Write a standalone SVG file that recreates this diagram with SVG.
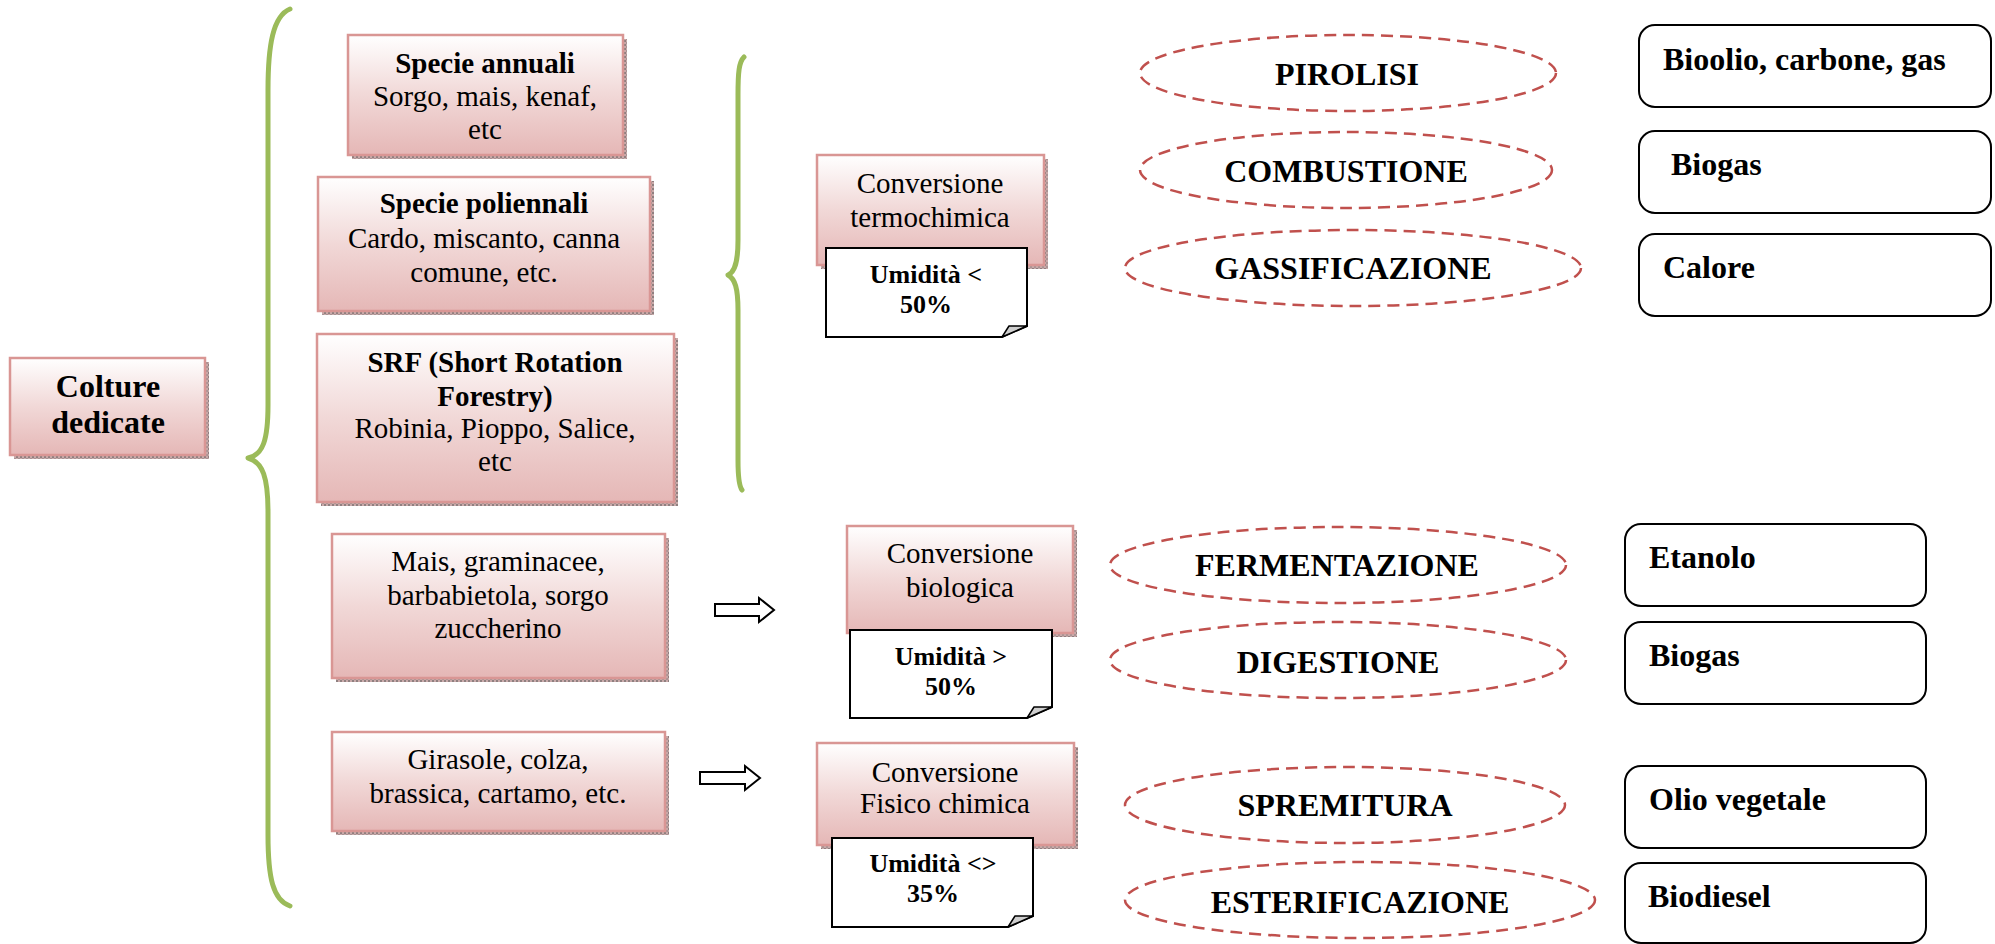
<svg xmlns="http://www.w3.org/2000/svg" width="1995" height="944" viewBox="0 0 1995 944" font-family="'Liberation Serif', 'DejaVu Serif', serif">
<defs>
<linearGradient id="pink" x1="0" y1="0" x2="0" y2="1">
<stop offset="0" stop-color="#FFFFFF"/>
<stop offset="0.5" stop-color="#F1D8D7"/>
<stop offset="1" stop-color="#E5B7B6"/>
</linearGradient>
<pattern id="shad" width="4" height="4" patternUnits="userSpaceOnUse">
<rect width="4" height="4" fill="#C9A9A9"/>
<rect width="2" height="2" fill="#8F8080"/>
<rect x="2" y="2" width="2" height="2" fill="#A89494"/>
</pattern>
</defs>
<style>
.box{fill:url(#pink);stroke:#D99694;stroke-width:2.5}
.sh{fill:url(#shad)}
.note{fill:#FFFFFF;stroke:#000;stroke-width:2}
.fold{fill:#CFCFCF;stroke:#000;stroke-width:1.5;stroke-linejoin:round}
.ell{fill:none;stroke:#C0504D;stroke-width:2.5;stroke-dasharray:12 7}
.res{fill:#FFFFFF;stroke:#000;stroke-width:2}
.brace{fill:none;stroke:#9BBB59;stroke-width:5;stroke-linecap:round;stroke-linejoin:round}
.arr{fill:#FFFFFF;stroke:#000;stroke-width:2;stroke-linejoin:miter}
.c{text-anchor:middle}
.b{font-weight:bold}
.f29{font-size:29px}
.f32{font-size:32px}
.f26{font-size:26px}
</style>

<g id="braces">
<path class="brace" d="M290 9 C273 16 268 45 268 90 L268 405 C268 440 263 455 248 458 C263 462 268 478 268 512 L268 835 C268 878 273 900 290 906"/>
<path class="brace" d="M744 57 C739 62 738 72 738 95 L738 240 C738 262 735 272 728 275 C735 279 738 288 738 310 L738 460 C738 478 739 486 742 490"/>
</g>

<g id="connectors">
<path class="arr" d="M715 604 H759 V598 L774 610 L759 622 V616 H715 Z"/>
<path class="arr" d="M700 772 H745 V766 L760 778 L745 790 V784 H700 Z"/>
</g>

<g id="colture">
<rect class="sh" x="14" y="362" width="195" height="97"/>
<rect class="box" x="10" y="358" width="195" height="97"/>
<text class="c b f32" x="108" y="397">Colture</text>
<text class="c b f32" x="108" y="433">dedicate</text>
</g>

<g id="specie-annuali">
<rect class="sh" x="352" y="39" width="275" height="120"/>
<rect class="box" x="348" y="35" width="275" height="120"/>
<text class="c b f29" x="485" y="73">Specie annuali</text>
<text class="c f29" x="485" y="106">Sorgo, mais, kenaf,</text>
<text class="c f29" x="485" y="139">etc</text>
</g>

<g id="specie-poliennali">
<rect class="sh" x="322" y="181" width="332" height="134"/>
<rect class="box" x="318" y="177" width="332" height="134"/>
<text class="c b f29" x="484" y="213">Specie poliennali</text>
<text class="c f29" x="484" y="248">Cardo, miscanto, canna</text>
<text class="c f29" x="484" y="282">comune, etc.</text>
</g>

<g id="srf">
<rect class="sh" x="321" y="338" width="357" height="168"/>
<rect class="box" x="317" y="334" width="357" height="168"/>
<text class="c b f29" x="495" y="372">SRF (Short Rotation</text>
<text class="c b f29" x="495" y="406">Forestry)</text>
<text class="c f29" x="495" y="438">Robinia, Pioppo, Salice,</text>
<text class="c f29" x="495" y="471">etc</text>
</g>

<g id="mais">
<rect class="sh" x="336" y="538" width="333" height="144"/>
<rect class="box" x="332" y="534" width="333" height="144"/>
<text class="c f29" x="498" y="571">Mais, graminacee,</text>
<text class="c f29" x="498" y="605">barbabietola, sorgo</text>
<text class="c f29" x="498" y="638">zuccherino</text>
</g>

<g id="girasole">
<rect class="sh" x="336" y="736" width="333" height="99"/>
<rect class="box" x="332" y="732" width="333" height="99"/>
<text class="c f29" x="498" y="769">Girasole, colza,</text>
<text class="c f29" x="498" y="803">brassica, cartamo, etc.</text>
</g>

<g id="conv-termochimica">
<rect class="sh" x="821" y="159" width="227" height="110"/>
<rect class="box" x="817" y="155" width="227" height="110"/>
<text class="c f29" x="930" y="193">Conversione</text>
<text class="c f29" x="930" y="227">termochimica</text>
</g>
<g id="note-termo">
<path class="note" d="M826 248 H1027 V326 L1002 337 H826 Z"/>
<path class="fold" d="M1002 337 L1009 326 L1027 326 Z"/>
<text class="c b f26" x="926" y="283">Umidità &lt;</text>
<text class="c b f26" x="926" y="313">50%</text>
</g>

<g id="conv-biologica">
<rect class="sh" x="851" y="530" width="226" height="107"/>
<rect class="box" x="847" y="526" width="226" height="107"/>
<text class="c f29" x="960" y="563">Conversione</text>
<text class="c f29" x="960" y="597">biologica</text>
</g>
<g id="note-bio">
<path class="note" d="M850 630 H1052 V707 L1027 718 H850 Z"/>
<path class="fold" d="M1027 718 L1034 707 L1052 707 Z"/>
<text class="c b f26" x="951" y="665">Umidità &gt;</text>
<text class="c b f26" x="951" y="695">50%</text>
</g>

<g id="conv-fisico">
<rect class="sh" x="821" y="747" width="257" height="102"/>
<rect class="box" x="817" y="743" width="257" height="102"/>
<text class="c f29" x="945" y="782">Conversione</text>
<text class="c f29" x="945" y="813">Fisico chimica</text>
</g>
<g id="note-fisico">
<path class="note" d="M832 838 H1033 V916 L1008 927 H832 Z"/>
<path class="fold" d="M1008 927 L1015 916 L1033 916 Z"/>
<text class="c b f26" x="933" y="872">Umidità &lt;&gt;</text>
<text class="c b f26" x="933" y="902">35%</text>
</g>

<g id="pirolisi">
<ellipse class="ell" cx="1348" cy="73" rx="208" ry="38"/>
<text class="c b f32" x="1347" y="85">PIROLISI</text>
</g>
<g id="combustione">
<ellipse class="ell" cx="1346" cy="170" rx="206" ry="38"/>
<text class="c b f32" x="1346" y="182">COMBUSTIONE</text>
</g>
<g id="gassificazione">
<ellipse class="ell" cx="1353" cy="268" rx="228" ry="38"/>
<text class="c b f32" x="1353" y="279">GASSIFICAZIONE</text>
</g>
<g id="fermentazione">
<ellipse class="ell" cx="1338" cy="565" rx="228" ry="38"/>
<text class="c b f32" x="1337" y="576">FERMENTAZIONE</text>
</g>
<g id="digestione">
<ellipse class="ell" cx="1338" cy="660" rx="228" ry="38"/>
<text class="c b f32" x="1338" y="673">DIGESTIONE</text>
</g>
<g id="spremitura">
<ellipse class="ell" cx="1345" cy="805" rx="220" ry="38"/>
<text class="c b f32" x="1345" y="816">SPREMITURA</text>
</g>
<g id="esterificazione">
<ellipse class="ell" cx="1360" cy="900" rx="235" ry="38"/>
<text class="c b f32" x="1360" y="913">ESTERIFICAZIONE</text>
</g>

<g id="res-bioolio">
<rect class="res" x="1639" y="25" width="352" height="82" rx="16"/>
<text class="b f32" x="1663" y="70">Bioolio, carbone, gas</text>
</g>
<g id="res-biogas1">
<rect class="res" x="1639" y="131" width="352" height="82" rx="16"/>
<text class="b f32" x="1671" y="175">Biogas</text>
</g>
<g id="res-calore">
<rect class="res" x="1639" y="234" width="352" height="82" rx="16"/>
<text class="b f32" x="1663" y="278">Calore</text>
</g>
<g id="res-etanolo">
<rect class="res" x="1625" y="524" width="301" height="82" rx="16"/>
<text class="b f32" x="1649" y="568">Etanolo</text>
</g>
<g id="res-biogas2">
<rect class="res" x="1625" y="622" width="301" height="82" rx="16"/>
<text class="b f32" x="1649" y="666">Biogas</text>
</g>
<g id="res-olio">
<rect class="res" x="1625" y="766" width="301" height="82" rx="16"/>
<text class="b f32" x="1649" y="810">Olio vegetale</text>
</g>
<g id="res-biodiesel">
<rect class="res" x="1625" y="863" width="301" height="80" rx="16"/>
<text class="b f32" x="1648" y="907">Biodiesel</text>
</g>
</svg>
